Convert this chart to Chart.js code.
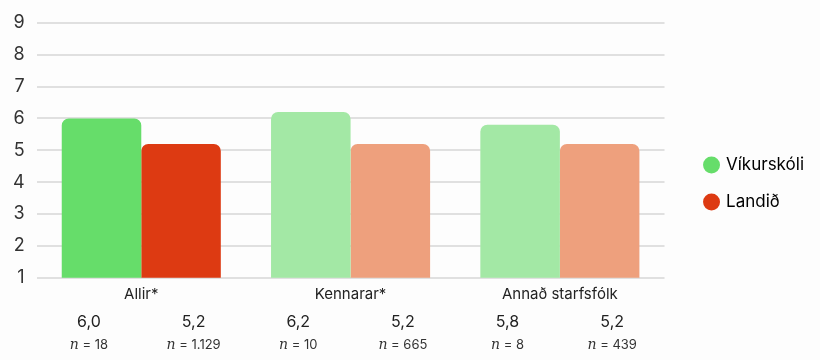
<!DOCTYPE html>
<html>
<head>
<meta charset="utf-8">
<script src="https://cdn.jsdelivr.net/npm/chart.js@4"></script>
<style>
  html, body { margin: 0; padding: 0; background: #fdfdfd; }
  #wrap { width: 820px; height: 360px; position: relative; }
</style>
</head>
<body>
<div id="wrap"><canvas id="chart"></canvas></div>
<script>
const categories = ['Allir*', 'Kennarar*', 'Annað starfsfólk'];
const seriesNames = ['Víkurskóli', 'Landið'];
const schoolValues = [6.0, 6.2, 5.8];
const nationValues = [5.2, 5.2, 5.2];
const schoolN = ['18', '10', '8'];
const nationN = ['1.129', '665', '439'];
const yTicks = [1, 2, 3, 4, 5, 6, 7, 8, 9];

const fmt = v => v.toFixed(1).replace('.', ',');

// value labels under each bar, in bar order
const valueLabels = [];
const nLabels = [];
categories.forEach((c, i) => {
  valueLabels.push(fmt(schoolValues[i]), fmt(nationValues[i]));
  nLabels.push(schoolN[i], nationN[i]);
});

const FONT = 'Inter, "DejaVu Sans", sans-serif';
Chart.defaults.font.family = FONT;
Chart.defaults.color = '#222';

const nRow = {
  id: 'nRow',
  afterDraw(chart) {
    const ctx = chart.ctx;
    const x2 = chart.scales.x2;
    const y = chart.height - 15;
    ctx.save();
    ctx.fillStyle = '#333';
    ctx.textBaseline = 'middle';
    nLabels.forEach((n, i) => {
      const cx = x2.getPixelForTick(i);
      const a = 'n';
      const b = ' = ' + n;
      ctx.font = 'italic 14px "DejaVu Serif", serif';
      const wa = ctx.measureText(a).width;
      ctx.font = '13px ' + FONT;
      const wb = ctx.measureText(b).width;
      const start = cx - (wa + wb) / 2;
      ctx.textAlign = 'left';
      ctx.font = 'italic 14px "DejaVu Serif", serif';
      ctx.fillText(a, start, y);
      ctx.font = '13px ' + FONT;
      ctx.fillText(b, start + wa, y);
    });
    ctx.restore();
  }
};

// make room between plot and legend, nudge legend items
const legendSpace = {
  id: 'legendSpace',
  beforeLayout(chart) {
    const lg = chart.legend;
    if (lg && !lg._patched) {
      const fit = lg.fit;
      lg.fit = function () { fit.call(this); this.width += 27; };
      lg._patched = true;
    }
  },
  afterLayout(chart) {
    const lg = chart.legend;
    lg.left += 21;
    lg.top += 11;
    lg.bottom += 11;
  }
};

new Chart(document.getElementById('chart'), {
  type: 'bar',
  data: {
    labels: categories,
    datasets: [{
      label: seriesNames[0],
      data: schoolValues,
      backgroundColor: ['#66dd6a', '#a3e8a5', '#a3e8a5'],
      borderRadius: 7,
      borderSkipped: 'bottom',
      categoryPercentage: 0.76,
      barPercentage: 1.0
    }, {
      label: seriesNames[1],
      data: nationValues,
      backgroundColor: ['#dd3a12', '#eea07d', '#eea07d'],
      borderRadius: 7,
      borderSkipped: 'bottom',
      categoryPercentage: 0.76,
      barPercentage: 1.0
    }]
  },
  options: {
    responsive: true,
    maintainAspectRatio: false,
    animation: false,
    layout: { padding: { top: 12, bottom: 27, left: 1 } },
    scales: {
      x: {
        grid: { display: false },
        border: { display: false },
        ticks: { font: { size: 15 }, color: '#222', padding: 0 }
      },
      x2: {
        type: 'category',
        position: 'bottom',
        labels: valueLabels,
        grid: { display: false },
        border: { display: false },
        ticks: { font: { size: 16 }, color: '#222', padding: 1 }
      },
      y: {
        min: 1,
        max: 9,
        afterBuildTicks: axis => { axis.ticks = yTicks.map(v => ({ value: v })); },
        grid: { color: '#e0e0e0', lineWidth: 2, drawTicks: false },
        border: { display: false },
        ticks: { font: { size: 18 }, color: '#333', padding: 12 }
      }
    },
    plugins: {
      legend: {
        position: 'right',
        labels: {
          usePointStyle: true,
          pointStyle: 'circle',
          boxWidth: 12,
          boxHeight: 12,
          padding: 20,
          font: { size: 17 },
          color: '#222',
          generateLabels: chart => chart.data.datasets.map((ds, i) => ({
            text: ds.label,
            fillStyle: ds.backgroundColor[0],
            strokeStyle: ds.backgroundColor[0],
            lineWidth: 0,
            pointStyle: 'circle',
            datasetIndex: i,
            hidden: false
          }))
        }
      },
      tooltip: { enabled: false }
    }
  },
  plugins: [nRow, legendSpace]
});
</script>
</body>
</html>
